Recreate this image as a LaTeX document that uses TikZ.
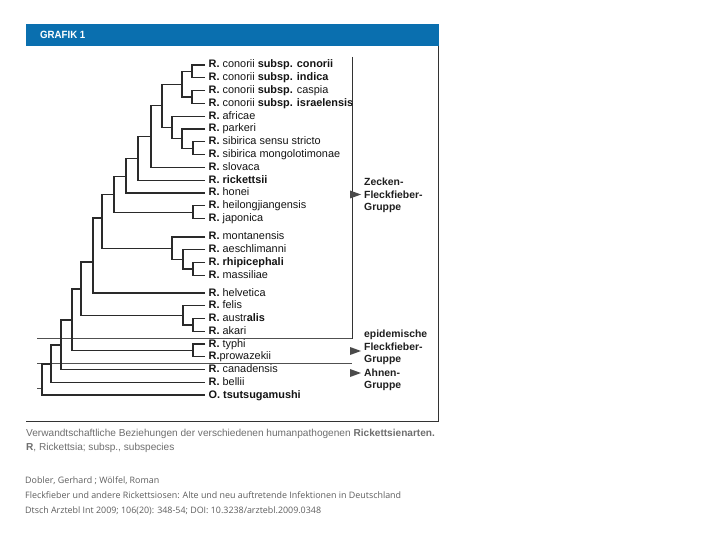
\documentclass[tikz,border=0pt]{standalone}
\usepackage{fontspec}
\setmainfont{Liberation Sans}
\newfontfamily\citefont{Open Sans}
\definecolor{hdrblue}{HTML}{0A6FAF}
\definecolor{treeline}{HTML}{2A2A2A}
\definecolor{capgray}{HTML}{6E6E6E}
\definecolor{citegray}{HTML}{5E5E5E}
\definecolor{sepgray}{HTML}{505050}
\definecolor{arrowfill}{HTML}{4A4A4A}
\begin{document}
\begin{tikzpicture}[x=1pt,y=-1pt,
  branch/.style={draw=treeline, line width=1.35pt},
  leaf/.style={anchor=west, inner xsep=3.5pt, inner ysep=0pt, text height=8pt, text depth=2pt, font=\fontsize{10.9}{12}\selectfont, text=black!92},
  grp/.style={anchor=west, align=left, inner sep=0pt, font=\bfseries\fontsize{10.4}{12.5}\selectfont, text=black!88},
  sepline/.style={draw=sepgray, line width=0.8pt},
  frameline/.style={draw=black!80, line width=0.9pt},
  captxt/.style={anchor=base west, inner sep=0pt, text=capgray, font=\fontsize{10.1}{12}\selectfont},
  citetxt/.style={anchor=base west, inner sep=0pt, text=citegray, font=\citefont\fontsize{8.9}{10}\selectfont}]
\useasboundingbox (0,0) rectangle (720,540);
\fill[white] (0,0) rectangle (720,540);
% header
\fill[hdrblue] (26,24) rectangle (439,46);
\node[anchor=base west, inner sep=0pt, text=white, font=\bfseries\fontsize{10.5}{12}\selectfont] (title) at (40,39) {\scalebox{0.92}[1]{GRAFIK 1}};
% frame
\draw[frameline] (438.5,46) -- (438.5,421.5) -- (26,421.5);
% separators and bracket
\draw[sepline] (37,338.5) -- (352,338.5);
\draw[sepline] (37,363.5) -- (352,363.5);
\draw[sepline] (37,388.5) -- (43,388.5);
\draw[draw=black!80, line width=0.9pt] (352,57) -- (352,338.5);
\fill[arrowfill] (350,190.5) -- (361,194.5) -- (350,198.5) -- cycle;
\fill[arrowfill] (350,347) -- (361,351) -- (350,355) -- cycle;
\fill[arrowfill] (350,369) -- (361,373) -- (350,377) -- cycle;
% leaves
\node[leaf] (L1) at (205,65) {\textbf{R.} conorii \textbf{subsp. conorii}};
\node[leaf] (L2) at (205,77.8) {\textbf{R.} conorii \textbf{subsp. indica}};
\node[leaf] (L3) at (205,90.6) {\textbf{R.} conorii \textbf{subsp.} caspia};
\node[leaf] (L4) at (205,103.4) {\textbf{R.} conorii \textbf{subsp. israelensis}};
\node[leaf] (L5) at (205,116.2) {\textbf{R.} africae};
\node[leaf] (L6) at (205,129) {\textbf{R.} parkeri};
\node[leaf] (L7) at (205,141.8) {\textbf{R.} sibirica sensu stricto};
\node[leaf] (L8) at (205,154.6) {\textbf{R.} sibirica mongolotimonae};
\node[leaf] (L9) at (205,167.4) {\textbf{R.} slovaca};
\node[leaf] (L10) at (205,180.2) {\textbf{R. rickettsii}};
\node[leaf] (L11) at (205,193) {\textbf{R.} honei};
\node[leaf] (L12) at (205,205.8) {\textbf{R.} heilongjiangensis};
\node[leaf] (L13) at (205,218.6) {\textbf{R.} japonica};
\node[leaf] (L14) at (205,237) {\textbf{R.} montanensis};
\node[leaf] (L15) at (205,249.8) {\textbf{R.} aeschlimanni};
\node[leaf] (L16) at (205,262.6) {\textbf{R. rhipicephali}};
\node[leaf] (L17) at (205,275.4) {\textbf{R.} massiliae};
\node[leaf] (L18) at (205,293) {\textbf{R.} helvetica};
\node[leaf] (L19) at (205,305.75) {\textbf{R.} felis};
\node[leaf] (L20) at (205,318.5) {\textbf{R.} austr\textbf{alis}};
\node[leaf] (L21) at (205,331.25) {\textbf{R.} akari};
\node[leaf] (L22) at (205,344) {\textbf{R.} typhi};
\node[leaf] (L23) at (205,356.75) {\textbf{R.}prowazekii};
\node[leaf] (L24) at (205,369.5) {\textbf{R.} canadensis};
\node[leaf] (L25) at (205,382.25) {\textbf{R.} bellii};
\node[leaf] (L26) at (205,395) {\textbf{O. tsutsugamushi}};
% internal nodes
\coordinate (n12) at (192,71.4);
\coordinate (n34) at (192,97);
\coordinate (nA) at (182,84.2);
\coordinate (n78) at (193,148.2);
\coordinate (n68) at (182,138.6);
\coordinate (n58) at (172,127.4);
\coordinate (nB) at (162,105.8);
\coordinate (nC) at (151,136.6);
\coordinate (nD) at (138,158.4);
\coordinate (nE) at (126,176.5);
\coordinate (n1213) at (193,212.2);
\coordinate (nF) at (114,194.3);
\coordinate (n1617) at (193,269);
\coordinate (n1517) at (183,259.4);
\coordinate (n1417) at (172,248.2);
\coordinate (nG) at (102,218);
\coordinate (nH) at (93,262);
\coordinate (n2021) at (193,324.9);
\coordinate (n1921) at (183,315.3);
\coordinate (nI) at (81,289);
\coordinate (n2223) at (193,350.4);
\coordinate (nJ) at (72,320);
\coordinate (nK) at (61,345);
\coordinate (nL) at (51,364);
\coordinate (root) at (42,379.5);
% branches
\draw[branch] (L1.west) -| (n12) |- (L2.west);
\draw[branch] (L3.west) -| (n34) |- (L4.west);
\draw[branch] (n12) -| (nA) |- (n34);
\draw[branch] (L7.west) -| (n78) |- (L8.west);
\draw[branch] (L6.west) -| (n68) |- (n78);
\draw[branch] (L5.west) -| (n58) |- (n68);
\draw[branch] (nA) -| (nB) |- (n58);
\draw[branch] (nB) -| (nC) |- (L9.west);
\draw[branch] (nC) -| (nD) |- (L10.west);
\draw[branch] (nD) -| (nE) |- (L11.west);
\draw[branch] (L12.west) -| (n1213) |- (L13.west);
\draw[branch] (nE) -| (nF) |- (n1213);
\draw[branch] (L16.west) -| (n1617) |- (L17.west);
\draw[branch] (L15.west) -| (n1517) |- (n1617);
\draw[branch] (L14.west) -| (n1417) |- (n1517);
\draw[branch] (nF) -| (nG) |- (n1417);
\draw[branch] (nG) -| (nH) |- (L18.west);
\draw[branch] (L20.west) -| (n2021) |- (L21.west);
\draw[branch] (L19.west) -| (n1921) |- (n2021);
\draw[branch] (nH) -| (nI) |- (n1921);
\draw[branch] (L22.west) -| (n2223) |- (L23.west);
\draw[branch] (nI) -| (nJ) |- (n2223);
\draw[branch] (nJ) -| (nK) |- (L24.west);
\draw[branch] (nK) -| (nL) |- (L25.west);
\draw[branch] (nL) -| (root) |- (L26.west);
% group labels
\node[grp] (zecken) at (364,195.5) {Zecken-\\Fleckfieber-\\Gruppe};
\node[grp] (epid) at (364,347.5) {epidemische\\Fleckfieber-\\Gruppe};
\node[grp] (ahnen) at (364,380) {Ahnen-\\Gruppe};
% caption
\node[captxt] (cap1) at (26,436.5) {Verwandtschaftliche Beziehungen der verschiedenen humanpathogenen \textbf{Rickettsienarten.}};
\node[captxt] (cap2) at (26,450.5) {\textbf{R}, Rickettsia; subsp., subspecies};
% citation
\node[citetxt] (cite1) at (25,483.5) {Dobler, Gerhard ; Wölfel, Roman};
\node[citetxt] (cite2) at (25,498.5) {Fleckfieber und andere Rickettsiosen: Alte und neu auftretende Infektionen in Deutschland};
\node[citetxt] (cite3) at (25,513) {Dtsch Arztebl Int 2009; 106(20): 348-54; DOI: 10.3238/arztebl.2009.0348};
\end{tikzpicture}
\end{document}
